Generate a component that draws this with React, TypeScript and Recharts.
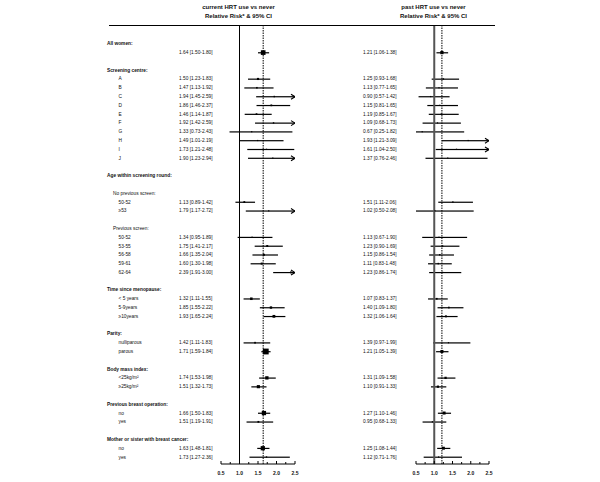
import { ComposedChart, Bar, Line, XAxis, YAxis, ReferenceLine } from 'recharts'

// rows from top to bottom
const ROW_LABELS = [
  'All women:', '', '',
  'Screening centre:', 'A', 'B', 'C', 'D', 'E', 'F', 'G', 'H', 'I', 'J', '',
  'Age within screening round:', '',
  'No previous screen:', '50-52', '≥53', '',
  'Previous screen:', '50-52', '53-55', '56-58', '59-61', '62-64', '',
  'Time since menopause:', '< 5 years', '5-9years', '≥10years', '',
  'Parity:', 'nulliparous', 'parous', '',
  'Body mass index:', '<25kg/m²', '≥25kg/m²', '',
  'Previous breast operation:', 'no', 'yes', '',
  'Mother or sister with breast cancer:', 'no', 'yes',
]
// g = group heading, s = sub heading, e = estimate, '' = spacer
const ROW_TYPES = [
  'g', 'e', '',
  'g', 'e', 'e', 'e', 'e', 'e', 'e', 'e', 'e', 'e', 'e', '',
  'g', '',
  's', 'e', 'e', '',
  's', 'e', 'e', 'e', 'e', 'e', '',
  'g', 'e', 'e', 'e', '',
  'g', 'e', 'e', '',
  'g', 'e', 'e', '',
  'g', 'e', 'e', '',
  'g', 'e', 'e',
]

const CURRENT_RR = [1.64, 1.50, 1.47, 1.94, 1.86, 1.46, 1.92, 1.33, 1.49, 1.73, 1.90, 1.13, 1.79, 1.34, 1.75, 1.66, 1.60, 2.39, 1.32, 1.85, 1.93, 1.42, 1.71, 1.74, 1.51, 1.66, 1.51, 1.63, 1.73]
const CURRENT_LO = [1.50, 1.23, 1.13, 1.45, 1.46, 1.14, 1.42, 0.73, 1.01, 1.21, 1.23, 0.89, 1.17, 0.95, 1.41, 1.35, 1.30, 1.91, 1.11, 1.55, 1.65, 1.11, 1.59, 1.53, 1.32, 1.50, 1.19, 1.48, 1.27]
const CURRENT_HI = [1.80, 1.83, 1.92, 2.59, 2.37, 1.87, 2.59, 2.43, 2.19, 2.48, 2.94, 1.42, 2.72, 1.89, 2.17, 2.04, 1.98, 3.00, 1.55, 2.22, 2.24, 1.83, 1.84, 1.98, 1.73, 1.83, 1.91, 1.81, 2.36]

const PAST_RR = [1.21, 1.25, 1.13, 0.90, 1.15, 1.19, 1.09, 0.67, 1.93, 1.61, 1.37, 1.51, 1.02, 1.13, 1.23, 1.15, 1.11, 1.23, 1.07, 1.40, 1.32, 1.39, 1.21, 1.31, 1.10, 1.27, 0.95, 1.25, 1.12]
const PAST_LO = [1.06, 0.93, 0.77, 0.57, 0.81, 0.85, 0.68, 0.25, 1.21, 1.04, 0.76, 1.11, 0.50, 0.67, 0.90, 0.86, 0.83, 0.86, 0.83, 1.09, 1.06, 0.97, 1.05, 1.09, 0.91, 1.10, 0.68, 1.08, 0.71]
const PAST_HI = [1.38, 1.68, 1.65, 1.42, 1.65, 1.67, 1.73, 1.82, 3.09, 2.50, 2.46, 2.06, 2.08, 1.90, 1.69, 1.54, 1.48, 1.74, 1.37, 1.80, 1.64, 1.99, 1.39, 1.58, 1.33, 1.46, 1.33, 1.44, 1.76]

const X_MIN = 0.5
const X_MAX = 2.5
const X_TICKS = [0.5, 0.75, 1, 1.25, 1.5, 1.75, 2, 2.25, 2.5]

const FONT = '"Liberation Sans", Arial, Helvetica, sans-serif'

function buildRows(rr: number[], lo: number[], hi: number[]) {
  let k = 0
  return ROW_LABELS.map((label, i) => {
    const type = ROW_TYPES[i]
    if (type !== 'e') return { key: `r${i}`, label, type, rr: null, lo: null, hi: null, ci: null, arrow: false, text: '' }
    const j = k++
    return {
      key: `r${i}`,
      label,
      type,
      rr: rr[j],
      lo: lo[j],
      hi: hi[j],
      ci: [lo[j], Math.min(hi[j], X_MAX)],
      arrow: hi[j] >= X_MAX,
      text: `${rr[j].toFixed(2)} [${lo[j].toFixed(2)}-${hi[j].toFixed(2)}]`,
    }
  })
}

const currentRows = buildRows(CURRENT_RR, CURRENT_LO, CURRENT_HI)
const pastRows = buildRows(PAST_RR, PAST_LO, PAST_HI)

function XTick(props: any) {
  const { x, y, payload } = props
  const v = payload.value as number
  const major = Math.abs(v * 2 - Math.round(v * 2)) < 1e-6
  return (
    <g>
      <line x1={x} x2={x} y1={y} y2={y - (major ? 3 : 2)} stroke="#000" strokeWidth={1} />
      {major && (
        <text x={x} y={y + 9} textAnchor="middle" dominantBaseline="central" fontSize={5} fontWeight="bold" fontFamily={FONT} fill="#111">
          {v.toFixed(1)}
        </text>
      )}
    </g>
  )
}

function makeYTick(rows: any[], showLabels: boolean, valueOffset: number) {
  return (props: any) => {
    const { x, y, payload } = props
    const row = rows[Number(String(payload.value).slice(1))]
    if (!row) return <g />
    const indent = row.type === 'g' ? 0 : row.type === 's' ? 6 : 11.5
    return (
      <g fontFamily={FONT} fill="#111">
        {showLabels && row.label && (
          <text x={107 + indent} y={y} dominantBaseline="central" fontSize={4.8} fontWeight={row.type === 'g' ? 'bold' : 'normal'}>
            {row.label}
          </text>
        )}
        {row.text && (
          <text x={x - valueOffset} y={y} dominantBaseline="central" fontSize={4.8}>
            {row.text}
          </text>
        )}
      </g>
    )
  }
}

function CiShape(props: any) {
  const { x, y, width, height, payload } = props
  if (!payload || !payload.ci) return <g />
  const cy = y + height / 2
  const tip = x + width
  return (
    <g>
      <rect x={x} y={y} width={width} height={height} fill="#000" />
      {payload.arrow && (
        <path d={`M${tip - 4},${cy - 2.5} L${tip},${cy} L${tip - 4},${cy + 2.5}`} fill="none" stroke="#000" strokeWidth={1.1} />
      )}
    </g>
  )
}

function PointDot(props: any) {
  const { cx, cy, payload, index } = props
  if (!payload || payload.rr == null || cx == null) return <g key={`p${index}`} />
  // square side grows with precision of the estimate
  const side = Math.max(1.2, Math.min(6, 0.85 / Math.log(payload.hi / payload.lo)))
  return <rect key={`p${index}`} x={cx - side / 2} y={cy - side / 2} width={side} height={side} fill="#000" />
}

interface PanelProps {
  rows: any[]
  left: number
  axisWidth: number
  marginRight: number
  showLabels: boolean
  valueOffset: number
  overall: number
  refStroke: string
  refWidth: number
}

function ForestPanel({ rows, left, axisWidth, marginRight, showLabels, valueOffset, overall, refStroke, refWidth }: PanelProps) {
  return (
    <div style={{ position: 'absolute', left, top: 0 }}>
      <ComposedChart
        layout="vertical"
        width={300}
        height={482}
        data={rows}
        margin={{ top: 25, right: marginRight, bottom: 0, left: 0 }}
      >
        <XAxis
          type="number"
          domain={[X_MIN, X_MAX]}
          allowDataOverflow
          ticks={X_TICKS}
          interval={0}
          height={18}
          tickSize={0}
          tickMargin={0}
          tickLine={false}
          axisLine={{ stroke: '#000', strokeWidth: 1 }}
          tick={<XTick />}
        />
        <YAxis
          type="category"
          dataKey="key"
          width={axisWidth}
          interval={0}
          axisLine={false}
          tickLine={false}
          tickSize={0}
          tickMargin={0}
          padding={{ top: 14.4, bottom: 2.6 }}
          tick={makeYTick(rows, showLabels, valueOffset)}
        />
        <ReferenceLine x={1} stroke={refStroke} strokeWidth={refWidth} />
        <ReferenceLine x={overall} stroke="#000" strokeWidth={1} strokeDasharray="1.5 1" />
        <Bar dataKey="ci" barSize={1.2} shape={CiShape} isAnimationActive={false} />
        <Line dataKey="rr" stroke="none" dot={PointDot} activeDot={false} isAnimationActive={false} />
      </ComposedChart>
    </div>
  )
}

const titleStyle = {
  position: 'absolute' as const,
  width: 160,
  textAlign: 'center' as const,
  fontFamily: FONT,
  fontSize: 6,
  fontWeight: 'bold' as const,
  lineHeight: '9px',
  color: '#111',
}

export default function App() {
  return (
    <div style={{ position: 'absolute', left: 0, top: 0, width: 600, height: 482, background: '#fff', overflow: 'hidden' }}>
      <ForestPanel
        rows={currentRows}
        left={0}
        axisWidth={221}
        marginRight={5}
        showLabels
        valueOffset={42}
        overall={CURRENT_RR[0]}
        refStroke="#000"
        refWidth={1}
      />
      <ForestPanel
        rows={pastRows}
        left={300}
        axisWidth={116}
        marginRight={111}
        showLabels={false}
        valueOffset={53}
        overall={PAST_RR[0]}
        refStroke="#555"
        refWidth={2}
      />
      <div style={{ ...titleStyle, left: 158.5, top: 2.5 }}>
        current HRT use vs never
        <br />
        Relative Risk* &amp; 95% CI
      </div>
      <div style={{ ...titleStyle, left: 353.5, top: 2.5 }}>
        past HRT use vs never
        <br />
        Relative Risk* &amp; 95% CI
      </div>
      <div style={{ position: 'absolute', left: 109, top: 24.5, width: 386, height: 1, background: '#000' }} />
    </div>
  )
}
